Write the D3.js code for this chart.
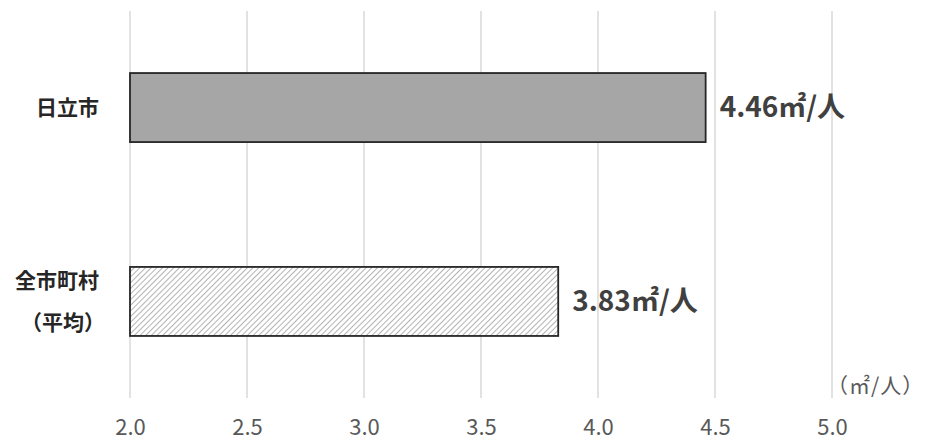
<!DOCTYPE html>
<html lang="ja">
<head>
  <meta charset="UTF-8">
  <script src="https://d3js.org/d3.v7.min.js"></script>
  <title>一人当たり公園面積</title>
  <style>
    body { margin: 0; background: #fff; }
    text { font-family: "Noto Sans CJK JP", "Noto Sans", sans-serif; }
  </style>
</head>
<body>
  <div id="wrapper"></div>
  <script>
    // data
    const categories = ["日立市", "全市町村（平均）"]
    const catLines = [["日立市"], ["全市町村", "（平均）"]]
    const values = [4.46, 3.83]
    const valueLabels = ["4.46㎡/人", "3.83㎡/人"]
    const ticks = [2.0, 2.5, 3.0, 3.5, 4.0, 4.5, 5.0]
    const unitLabel = "（㎡/人）"

    const dimensions = {
      width: 929,
      height: 441,
      margin: { top: 11, right: 97, bottom: 43, left: 130 }
    }
    dimensions.boundedWidth = dimensions.width - dimensions.margin.left - dimensions.margin.right
    dimensions.boundedHeight = dimensions.height - dimensions.margin.top - dimensions.margin.bottom

    const svg = d3.select("#wrapper")
      .append("svg")
      .attr("width", dimensions.width)
      .attr("height", dimensions.height)

    // hatch for the average bar
    const defs = svg.append("defs")
    const pat = defs.append("pattern")
      .attr("id", "hatch")
      .attr("patternUnits", "userSpaceOnUse")
      .attr("width", 4)
      .attr("height", 4)
      .attr("patternTransform", "rotate(45)")
    pat.append("rect").attr("width", 4).attr("height", 4).attr("fill", "#ffffff")
    pat.append("line")
      .attr("x1", 0).attr("y1", 0).attr("x2", 0).attr("y2", 4)
      .attr("stroke", "#a5a5a5").attr("stroke-width", 1.7)

    const bounds = svg.append("g")
      .attr("transform", `translate(${dimensions.margin.left},${dimensions.margin.top})`)

    const xScale = d3.scaleLinear()
      .domain([2.0, 5.0])
      .range([0, dimensions.boundedWidth])

    const yScale = d3.scaleBand()
      .domain(categories)
      .range([0, dimensions.boundedHeight])
      .paddingInner(0.644)
      .paddingOuter(0.32)

    // grid
    bounds.append("g")
      .selectAll("line")
      .data(ticks)
      .join("line")
      .attr("x1", d => xScale(d)).attr("x2", d => xScale(d))
      .attr("y1", 0).attr("y2", dimensions.boundedHeight)
      .attr("stroke", "#d9d9d9")
      .attr("stroke-width", 1.5)

    // x axis labels
    const xAxis = bounds.append("g")
      .attr("transform", `translate(0,${dimensions.boundedHeight})`)
      .call(d3.axisBottom(xScale).tickValues(ticks).tickFormat(d3.format(".1f")).tickSize(0).tickPadding(21))
    xAxis.select(".domain").remove()
    xAxis.selectAll("text")
      .style("font-family", "'Noto Sans CJK JP', sans-serif")
      .style("font-size", "22px")
      .attr("fill", "#595959")

    // bars
    bounds.append("g")
      .selectAll("rect")
      .data(categories)
      .join("rect")
      .attr("x", 0)
      .attr("y", d => yScale(d))
      .attr("width", (d, i) => xScale(values[i]))
      .attr("height", yScale.bandwidth())
      .attr("fill", (d, i) => i === 0 ? "#a6a6a6" : "url(#hatch)")
      .attr("stroke", "#262626")
      .attr("stroke-width", 1.8)

    // value labels
    bounds.append("g")
      .selectAll("text")
      .data(categories)
      .join("text")
      .attr("x", (d, i) => xScale(values[i]) + 14)
      .attr("y", d => yScale(d) + yScale.bandwidth() / 2)
      .attr("dy", "0.35em")
      .attr("fill", "#404040")
      .style("font-size", "28px")
      .style("font-weight", "bold")
      .text((d, i) => valueLabels[i])

    // category labels
    const catG = bounds.append("g")
      .selectAll("text")
      .data(categories)
      .join("text")
      .attr("text-anchor", "end")
      .attr("fill", "#262626")
      .style("font-size", "21px")
      .style("font-weight", "bold")
      .attr("transform", d => `translate(-31,${yScale(d) + yScale.bandwidth() / 2})`)
    catG.each(function (d, i) {
      const lines = catLines[i]
      const lh = 42
      const start = -(lines.length - 1) * lh / 2
      d3.select(this).selectAll("tspan")
        .data(lines)
        .join("tspan")
        .attr("x", (t, j) => j === 1 ? 6 : 0)
        .attr("y", (t, j) => start + j * lh)
        .attr("dy", "0.35em")
        .text(t => t)
    })

    // unit label
    bounds.append("text")
      .attr("x", xScale(5.0) - 5)
      .attr("y", dimensions.boundedHeight - 5)
      .attr("fill", "#595959")
      .style("font-size", "21px")
      .style("letter-spacing", "1px")
      .text(unitLabel)
  </script>
</body>
</html>
